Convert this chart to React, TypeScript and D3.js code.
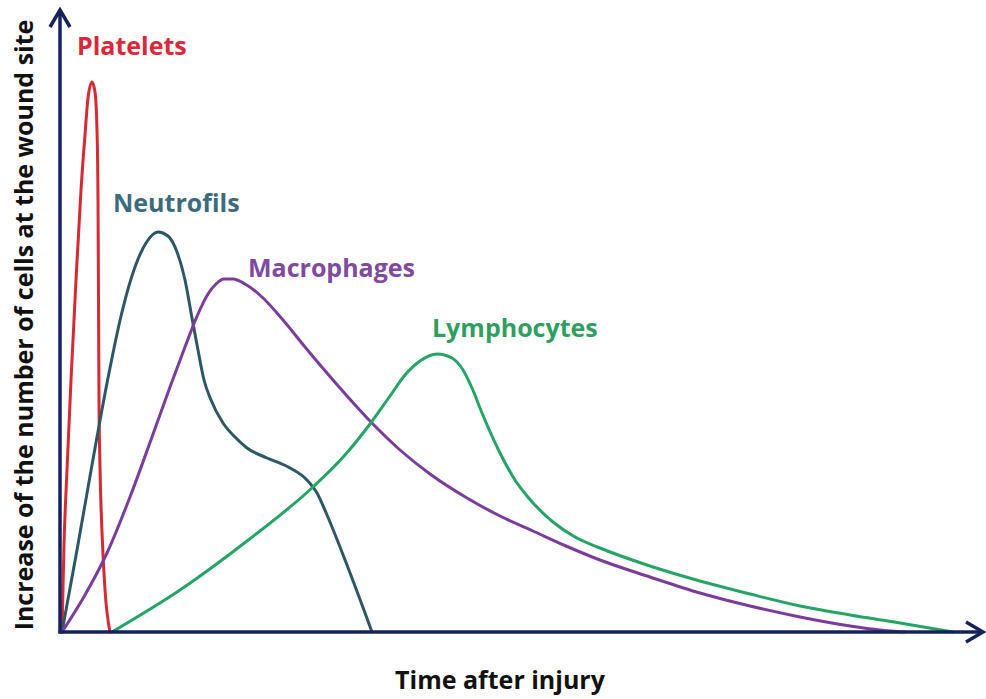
import React from "react";
import * as d3 from "d3";

const W = 986;
const H = 699;

// x: time after injury (arbitrary units), y: relative number of cells (arbitrary units)
const plateletsX = [0, 2, 5, 9, 14, 19, 23, 26, 30, 33, 35, 36, 36.5, 37, 38, 40, 43, 48];
const plateletsY = [0, 87, 162, 252, 352, 442, 497, 534, 550, 540, 502, 432, 332, 232, 165, 100, 42, 0];

const neutrofilsX = [0, 15, 30, 46, 60, 73, 84, 96, 106, 115, 123, 130, 136, 142, 149, 161, 173, 185, 205, 228, 245, 255, 265, 285, 310];
const neutrofilsY = [0, 82, 167, 254, 320, 365, 389, 400, 396, 380, 352, 314, 282, 252, 232, 209, 195, 184, 174, 164, 152, 139, 117, 67, 0];

const macrophagesX = [0, 23, 45, 68, 90, 108, 123, 136, 146, 154, 162, 171, 183, 200, 221, 243, 271, 308, 338, 368, 405, 438, 471, 504, 538, 588, 638, 688, 738, 788, 818, 843];
const macrophagesY = [0, 37, 79, 135, 195, 245, 285, 318, 338, 348, 353, 353, 348, 335, 312, 285, 252, 211, 182, 158, 134, 116, 101, 86, 72, 55, 39, 26, 15, 6, 2, 0];

const lymphocytesX = [50, 118, 185, 251, 283, 308, 328, 343, 358, 375, 390, 401, 410, 420, 438, 453, 465, 491, 513, 538, 588, 638, 688, 738, 788, 838, 891];
const lymphocytesY = [0, 42, 91, 145, 177, 208, 236, 257, 271, 278, 274, 262, 244, 219, 179, 152, 136, 110, 95, 84, 66, 51, 38, 26, 17, 9, 0];

const seriesNames = ["Platelets", "Neutrofils", "Macrophages", "Lymphocytes"];
const xTitle = "Time after injury";
const yTitle = "Increase of the number of cells at the wound site";

const lineColors = ["#d42a32", "#2c5866", "#7a3d9c", "#25a466"];
const labelColors = ["#d8283a", "#3b6b7c", "#7f4aa0", "#2f9e62"];
// label anchor positions in data units (x at left edge, y at baseline)
const labelX = [15, 51, 186, 370];
const labelY = [577, 420, 355, 295];

const AXIS = "#16225c";
const FONT = "'Open Sans', 'DejaVu Sans', sans-serif";

export default function App() {
  const x = d3.scaleLinear().domain([0, 900]).range([62, 962]);
  const y = d3.scaleLinear().domain([0, 550]).range([632, 82]);

  const xs = [plateletsX, neutrofilsX, macrophagesX, lymphocytesX];
  const ys = [plateletsY, neutrofilsY, macrophagesY, lymphocytesY];

  const line = d3
    .line<[number, number]>()
    .x((d) => x(d[0]))
    .y((d) => y(d[1]))
    .curve(d3.curveMonotoneX);

  const x0 = 60;
  const y0 = y(0);

  return (
    <svg
      width={W}
      height={H}
      style={{ position: "fixed", left: 0, top: 0, background: "#fff" }}
      fontFamily={FONT}
    >
      <rect x={0} y={0} width={W} height={H} fill="#fff" />
      {seriesNames.map((name, i) => {
        const pts = xs[i].map((v, j) => [v, ys[i][j]] as [number, number]);
        return (
          <path
            key={name}
            d={line(pts) || ""}
            fill="none"
            stroke={lineColors[i]}
            strokeWidth={3}
            strokeLinejoin="round"
            strokeLinecap="round"
          />
        );
      })}
      {/* axes */}
      <line x1={x0} y1={y0 + 1.5} x2={x0} y2={10} stroke={AXIS} strokeWidth={3.5} />
      <polyline
        points={`${x0 - 10},27 ${x0},10 ${x0 + 10},27`}
        fill="none"
        stroke={AXIS}
        strokeWidth={3.5}
        strokeLinejoin="miter"
      />
      <line x1={x0 - 1.5} y1={y0} x2={983} y2={y0} stroke={AXIS} strokeWidth={3.5} />
      <polyline
        points={`966,${y0 - 10} 983,${y0} 966,${y0 + 10}`}
        fill="none"
        stroke={AXIS}
        strokeWidth={3.5}
        strokeLinejoin="miter"
      />
      {seriesNames.map((name, i) => (
        <text
          key={name + "-label"}
          x={x(labelX[i])}
          y={y(labelY[i])}
          fill={labelColors[i]}
          fontSize={25}
          fontWeight="bold"
        >
          {name}
        </text>
      ))}
      <text x={500} y={689} textAnchor="middle" fontSize={25} fontWeight="bold" fill="#111">
        {xTitle}
      </text>
      <text
        transform={`translate(33, 325) rotate(-90)`}
        textAnchor="middle"
        fontSize={25}
        fontWeight="bold"
        fill="#111"
      >
        {yTitle}
      </text>
    </svg>
  );
}
